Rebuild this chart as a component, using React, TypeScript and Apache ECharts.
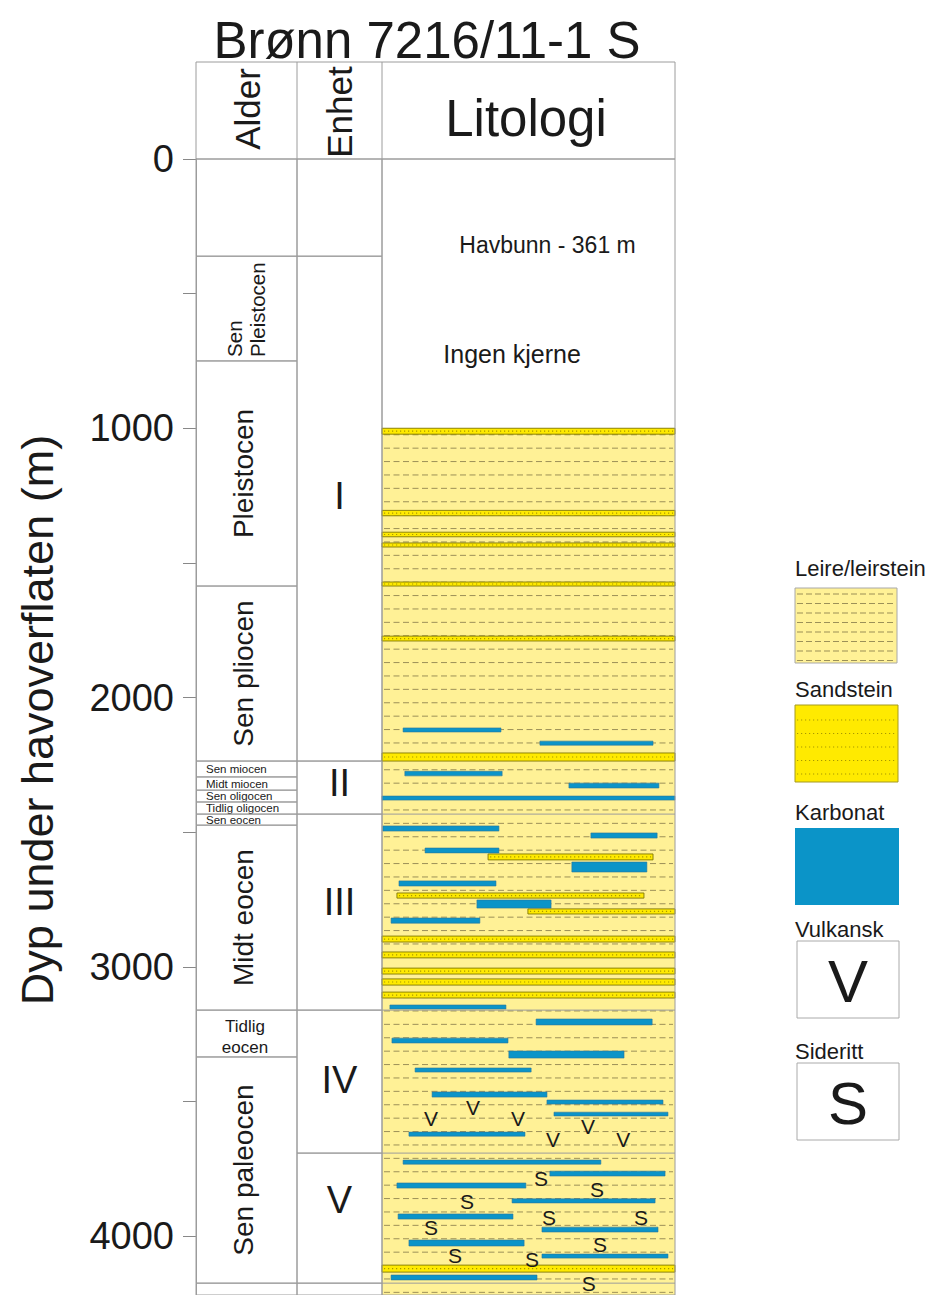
import React, { useEffect, useRef } from 'react';
import * as echarts from 'echarts';

const FONT = '"Liberation Sans", Arial, Helvetica, sans-serif';
const INK = '#1a1a1a';
const RULE = '#9c9c9c';
const CLAY = '#FFF196';
const CLAY_DASH = 'rgba(95,85,50,0.62)';
const SAND = '#FFEA00';
const SAND_EDGE = '#807700';
const SAND_DOT = '#a89800';
const CARB = '#0B94C8';
const CARB_EDGE = '#2b7499';

// Depth range of the log (metres below sea level)
const DEPTH_MIN = 0;
const DEPTH_MAX = 4219;

// Age column
const ageNames = ['', 'Sen\nPleistocen', 'Pleistocen', 'Sen pliocen', 'Sen miocen', 'Midt miocen', 'Sen oligocen', 'Tidlig oligocen', 'Sen eocen', 'Midt eocen', 'Tidlig\neocen', 'Sen paleocen', ''];
const ageBounds = [0, 361, 750, 1586, 2236, 2295, 2344, 2388, 2433, 2474, 3161, 3335, 4175, 4219];

// Unit column
const unitNames = ['', 'I', 'II', 'III', 'IV', 'V', ''];
const unitBounds = [0, 361, 2236, 2433, 3161, 3692, 4175, 4219];
const unitLabelDepths = [180, 1250, 2316, 2760, 3420, 3866, 4197];

// Unit boundaries carried across the lithology column
const coreBreaks = [2433, 3161, 3692, 4175];

// Cored interval (clay / claystone background)
const clayInterval = [[0, 100, 1000, 4219]];

// Sandstone beds: [left %, right %, top m, base m]
const sandBeds = [
  [0, 100, 1000, 1022],
  [0, 100, 1305, 1325],
  [0, 100, 1386, 1403],
  [0, 100, 1426, 1441],
  [0, 100, 1571, 1586],
  [0, 100, 1772, 1790],
  [0, 100, 2206, 2236],
  [36.2, 92.5, 2581, 2603],
  [5.1, 89.4, 2726, 2745],
  [49.8, 100, 2785, 2804],
  [0, 100, 2886, 2908],
  [0, 100, 2945, 2967],
  [0, 100, 3005, 3027],
  [0, 100, 3045, 3068],
  [0, 100, 3094, 3116],
  [0, 100, 4108, 4134],
];

// Carbonate beds: [left %, right %, top m, base m]
const carbBeds = [
  [7.2, 40.6, 2113, 2128],
  [53.9, 92.5, 2162, 2177],
  [7.8, 41.0, 2274, 2291],
  [63.8, 94.5, 2318, 2336],
  [0, 100, 2366, 2381],
  [0.3, 39.9, 2477, 2496],
  [71.3, 93.9, 2503, 2522],
  [14.7, 39.9, 2559, 2577],
  [64.8, 90.4, 2611, 2648],
  [5.8, 38.9, 2681, 2700],
  [32.4, 57.7, 2752, 2782],
  [3.1, 33.4, 2819, 2838],
  [2.7, 42.3, 3142, 3157],
  [52.6, 92.2, 3194, 3216],
  [3.4, 43.0, 3265, 3283],
  [43.3, 82.6, 3313, 3339],
  [11.3, 50.9, 3376, 3391],
  [17.1, 56.3, 3465, 3484],
  [56.3, 95.9, 3495, 3510],
  [58.7, 97.6, 3540, 3554],
  [9.2, 48.8, 3614, 3629],
  [7.2, 74.7, 3718, 3733],
  [57.3, 96.6, 3759, 3777],
  [5.1, 49.1, 3803, 3822],
  [44.4, 93.2, 3862, 3877],
  [5.5, 44.7, 3918, 3937],
  [54.6, 94.2, 3967, 3985],
  [9.2, 48.5, 4015, 4037],
  [54.6, 97.6, 4067, 4082],
  [3.1, 52.9, 4145, 4163],
];

// Volcanic and siderite occurrences: [position %, depth m]
const volcanicMarks = [
  [16.7, 3562], [31.1, 3521], [46.4, 3562], [58.4, 3640], [70.3, 3595], [82.3, 3643],
];
const sideriteMarks = [
  [54.3, 3788], [73.4, 3829], [29.0, 3873], [57.0, 3933], [88.4, 3933],
  [16.7, 3970], [74.4, 4030], [24.9, 4073], [51.2, 4089], [70.6, 4175],
];

// Notes in the uncored interval
const noteTexts = ['Havbunn - 361 m', 'Ingen kjerne'];
const notePositions = [[56.5, 320], [44.4, 724]];
const noteSizes = [23, 25];

// Legend entries
const legendNames = ['Leire/leirstein', 'Sandstein', 'Karbonat', 'Vulkansk', 'Sideritt'];

const columnRows = [
  ...ageNames.map((name, i) => ({ col: 0, top: ageBounds[i], base: ageBounds[i + 1], name, labelDepth: (ageBounds[i] + ageBounds[i + 1]) / 2 })),
  ...unitNames.map((name, i) => ({ col: 1, top: unitBounds[i], base: unitBounds[i + 1], name, labelDepth: unitLabelDepths[i] })),
];

const ALDER_W = 101;

function textEl(text: string, x: number, y: number, fontSize: number, extra: any = {}, rotation = 0) {
  return {
    type: 'text',
    x,
    y,
    rotation,
    style: {
      text,
      x: 0,
      y: 0,
      fontSize,
      fontFamily: FONT,
      fill: INK,
      align: 'center',
      verticalAlign: 'middle',
      ...extra,
    },
  };
}

function bedRect(api: any, fill: string, stroke: string, lw: number) {
  const [xa, ya] = api.coord([api.value(0), api.value(2)]);
  const [xb, yb] = api.coord([api.value(1), api.value(3)]);
  return { xa, ya, xb, yb, rect: { type: 'rect', shape: { x: xa, y: ya, width: xb - xa, height: yb - ya }, style: { fill, stroke, lineWidth: lw } } };
}

function buildLegend() {
  const lx = 795;
  const els: any[] = [];
  const label = (t: string, y: number) => els.push({ type: 'text', x: lx, y, style: { text: t, fontSize: 22, fontFamily: FONT, fill: INK, align: 'left', verticalAlign: 'middle' } });
  // clay
  label(legendNames[0], 568);
  els.push({ type: 'rect', shape: { x: 795, y: 588, width: 102, height: 75 }, style: { fill: CLAY, stroke: '#a8a8a8', lineWidth: 1 } });
  for (let k = 0; k < 8; k++) {
    const y = 594 + k * 9.5;
    els.push({ type: 'line', shape: { x1: 797, y1: y, x2: 895, y2: y }, style: { stroke: CLAY_DASH, lineWidth: 1, lineDash: [6, 3] } });
  }
  // sandstone
  label(legendNames[1], 689);
  els.push({ type: 'rect', shape: { x: 795, y: 705, width: 103, height: 77 }, style: { fill: SAND, stroke: '#a59a20', lineWidth: 1 } });
  for (let k = 0; k < 5; k++) {
    const y = 720 + k * 13.5;
    els.push({ type: 'line', shape: { x1: 797, y1: y, x2: 896, y2: y }, style: { stroke: SAND_DOT, lineWidth: 1.2, lineDash: [1.2, 2.8] } });
  }
  // carbonate
  label(legendNames[2], 812);
  els.push({ type: 'rect', shape: { x: 795, y: 828, width: 104, height: 77 }, style: { fill: CARB } });
  // volcanic
  label(legendNames[3], 929);
  els.push({ type: 'rect', shape: { x: 797, y: 941, width: 102, height: 77 }, style: { fill: '#fff', stroke: '#aaa', lineWidth: 1 } });
  els.push({ type: 'text', x: 848, y: 981, style: { text: 'V', fontSize: 60, fontFamily: FONT, fill: INK, align: 'center', verticalAlign: 'middle' } });
  // siderite
  label(legendNames[4], 1051);
  els.push({ type: 'rect', shape: { x: 797, y: 1063, width: 102, height: 77 }, style: { fill: '#fff', stroke: '#aaa', lineWidth: 1 } });
  els.push({ type: 'text', x: 848, y: 1103, style: { text: 'S', fontSize: 60, fontFamily: FONT, fill: INK, align: 'center', verticalAlign: 'middle' } });
  return els;
}

function buildHeader() {
  const els: any[] = [];
  els.push({ type: 'text', x: 427, y: 40, style: { text: 'Brønn 7216/11-1 S', fontSize: 51, fontFamily: FONT, fill: INK, align: 'center', verticalAlign: 'middle' } });
  els.push({ type: 'rect', shape: { x: 196, y: 62, width: 479, height: 97 }, style: { fill: 'none', stroke: RULE, lineWidth: 1 } });
  els.push({ type: 'line', shape: { x1: 297, y1: 62, x2: 297, y2: 159 }, style: { stroke: RULE, lineWidth: 1 } });
  els.push({ type: 'line', shape: { x1: 382, y1: 62, x2: 382, y2: 159 }, style: { stroke: RULE, lineWidth: 1 } });
  els.push({ type: 'text', x: 247, y: 109, rotation: Math.PI / 2, style: { text: 'Alder', fontSize: 35, fontFamily: FONT, fill: INK, align: 'center', verticalAlign: 'middle' } });
  els.push({ type: 'text', x: 339, y: 112, rotation: Math.PI / 2, style: { text: 'Enhet', fontSize: 35, fontFamily: FONT, fill: INK, align: 'center', verticalAlign: 'middle' } });
  els.push({ type: 'text', x: 526, y: 118, style: { text: 'Litologi', fontSize: 51, fontFamily: FONT, fill: INK, align: 'center', verticalAlign: 'middle' } });
  return els;
}

export default function App() {
  const ref = useRef<HTMLDivElement>(null);

  useEffect(() => {
    if (!ref.current) return;
    const chart = echarts.init(ref.current, null, { renderer: 'svg' });

    const option: any = {
      animation: false,
      backgroundColor: '#ffffff',
      textStyle: { fontFamily: FONT },
      grid: [
        { left: 196, top: 159, width: 186, height: 1136 },
        { left: 382, top: 159, width: 293, height: 1136 },
      ],
      xAxis: [
        { gridIndex: 0, type: 'value', min: 0, max: 1, show: false },
        { gridIndex: 1, type: 'value', min: 0, max: 100, show: false },
      ],
      yAxis: [
        {
          gridIndex: 0,
          type: 'value',
          inverse: true,
          min: DEPTH_MIN,
          max: DEPTH_MAX,
          interval: 500,
          name: 'Dyp under havoverflaten (m)',
          nameLocation: 'middle',
          nameRotate: 90,
          nameGap: 136,
          nameTextStyle: { fontSize: 45, color: INK, fontFamily: FONT, padding: [0, 0, 0, 14] },
          axisLine: { show: true, lineStyle: { color: RULE, width: 1 } },
          axisTick: { show: true, length: 13, lineStyle: { color: '#888', width: 1 } },
          axisLabel: {
            fontSize: 38,
            color: INK,
            fontFamily: FONT,
            margin: 22,
            showMaxLabel: false,
            formatter: (v: number) => (v % 1000 === 0 ? String(v) : ''),
          },
          splitLine: { show: false },
        },
        { gridIndex: 1, type: 'value', inverse: true, min: DEPTH_MIN, max: DEPTH_MAX, show: false },
      ],
      graphic: [...buildHeader(), ...buildLegend()],
      series: [
        // Age and unit columns
        {
          type: 'custom',
          xAxisIndex: 0,
          yAxisIndex: 0,
          data: columnRows.map((r) => [r.col, r.top, r.base, r.labelDepth]),
          renderItem: (params: any, api: any) => {
            const r = columnRows[params.dataIndex];
            const cs = params.coordSys;
            const x0 = r.col === 0 ? cs.x : cs.x + ALDER_W;
            const w = r.col === 0 ? ALDER_W : cs.width - ALDER_W;
            const yTop = api.coord([0, api.value(1)])[1];
            const yBase = api.coord([0, api.value(2)])[1];
            const yLab = api.coord([0, api.value(3)])[1];
            const h = yBase - yTop;
            const children: any[] = [
              { type: 'rect', shape: { x: x0, y: yTop, width: w, height: h }, style: { fill: 'none', stroke: RULE, lineWidth: 1 } },
            ];
            if (r.name) {
              if (r.col === 1) {
                children.push(textEl(r.name, x0 + w / 2, yLab, 38));
              } else if (h < 20) {
                children.push(textEl(r.name, x0 + 10, yLab, 11.5, { align: 'left' }));
              } else if (r.name.includes('\n') && h < 80) {
                children.push(textEl(r.name, x0 + 49, yLab + 3, 17, { lineHeight: 21 }));
              } else if (r.name.includes('\n')) {
                children.push(textEl(r.name, x0 + 50, yBase - 4, 20.5, { align: 'left', lineHeight: 23 }, Math.PI / 2));
              } else {
                children.push(textEl(r.name, x0 + 47, yLab, 28, {}, Math.PI / 2));
              }
            }
            return { type: 'group', children };
          },
          z: 2,
        },
        // Clay / claystone background with dashed pattern
        {
          type: 'custom',
          xAxisIndex: 1,
          yAxisIndex: 1,
          data: clayInterval,
          renderItem: (params: any, api: any) => {
            const b = bedRect(api, CLAY, 'none', 0);
            const children: any[] = [b.rect];
            for (let y = b.ya + 6.5; y < b.yb - 1; y += 13.4) {
              children.push({ type: 'line', shape: { x1: b.xa + 2, y1: y, x2: b.xb - 2, y2: y }, style: { stroke: CLAY_DASH, lineWidth: 1, lineDash: [6, 3.5] } });
            }
            return { type: 'group', children };
          },
          z: 1,
        },
        // Sandstone beds
        {
          type: 'custom',
          xAxisIndex: 1,
          yAxisIndex: 1,
          data: sandBeds,
          renderItem: (params: any, api: any) => {
            const b = bedRect(api, SAND, SAND_EDGE, 0.9);
            const ym = (b.ya + b.yb) / 2;
            return {
              type: 'group',
              children: [
                b.rect,
                { type: 'line', shape: { x1: b.xa + 2, y1: ym, x2: b.xb - 2, y2: ym }, style: { stroke: SAND_DOT, lineWidth: 1.2, lineDash: [1.2, 2.8] } },
              ],
            };
          },
          z: 3,
        },
        // Carbonate beds
        {
          type: 'custom',
          xAxisIndex: 1,
          yAxisIndex: 1,
          data: carbBeds,
          renderItem: (params: any, api: any) => bedRect(api, CARB, CARB_EDGE, 0.6).rect,
          z: 4,
        },
        // Column frame and unit boundaries across the lithology log
        {
          type: 'custom',
          xAxisIndex: 1,
          yAxisIndex: 1,
          data: coreBreaks.map((d) => [d]),
          renderItem: (params: any, api: any) => {
            const cs = params.coordSys;
            const y = api.coord([0, api.value(0)])[1];
            const children: any[] = [
              { type: 'line', shape: { x1: cs.x, y1: y, x2: cs.x + cs.width, y2: y }, style: { stroke: RULE, lineWidth: 1 } },
            ];
            if (params.dataIndex === 0) {
              children.push({ type: 'rect', shape: { x: cs.x, y: cs.y, width: cs.width, height: cs.height }, style: { fill: 'none', stroke: RULE, lineWidth: 1 } });
            }
            return { type: 'group', children };
          },
          z: 5,
        },
        // Volcanic occurrences
        {
          type: 'custom',
          xAxisIndex: 1,
          yAxisIndex: 1,
          data: volcanicMarks,
          renderItem: (params: any, api: any) => {
            const [x, y] = api.coord([api.value(0), api.value(1)]);
            return textEl('V', x, y, 21);
          },
          z: 6,
        },
        // Siderite occurrences
        {
          type: 'custom',
          xAxisIndex: 1,
          yAxisIndex: 1,
          data: sideriteMarks,
          renderItem: (params: any, api: any) => {
            const [x, y] = api.coord([api.value(0), api.value(1)]);
            return textEl('S', x, y, 21);
          },
          z: 6,
        },
        // Notes in the uncored interval
        {
          type: 'custom',
          xAxisIndex: 1,
          yAxisIndex: 1,
          data: notePositions,
          renderItem: (params: any, api: any) => {
            const [x, y] = api.coord([api.value(0), api.value(1)]);
            return textEl(noteTexts[params.dataIndex], x, y, noteSizes[params.dataIndex]);
          },
          z: 6,
        },
      ],
    };

    chart.setOption(option);
    return () => chart.dispose();
  }, []);

  return <div ref={ref} style={{ position: 'absolute', left: 0, top: 0, width: 933, height: 1295 }} />;
}
